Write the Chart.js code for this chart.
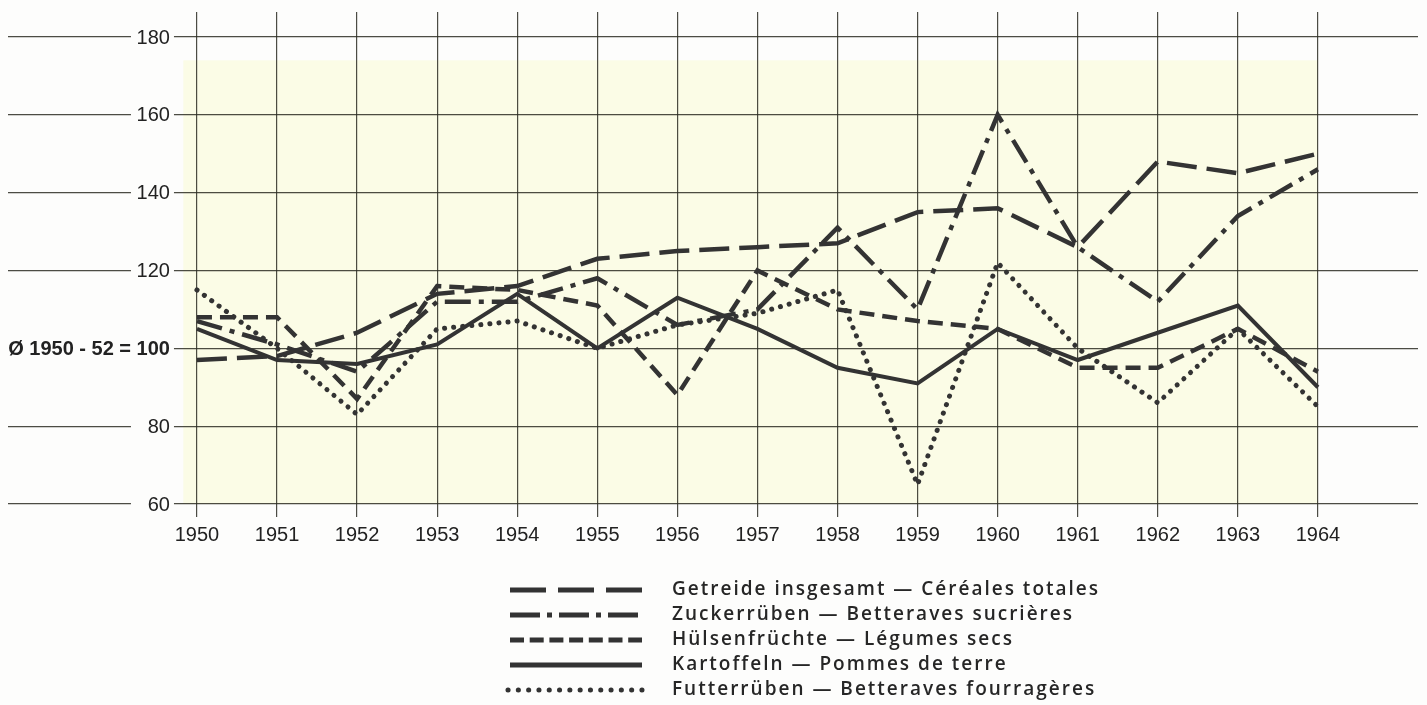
<!DOCTYPE html>
<html>
<head>
<meta charset="utf-8">
<script src="https://cdn.jsdelivr.net/npm/chart.js@4.4.1/dist/chart.umd.min.js"></script>
<style>
    html, body { margin: 0; padding: 0; background: #fdfdfc; }
    .chartBox { width: 1427px; height: 705px; }
</style>
</head>
<body>
<div class="chartBox"><canvas id="chart"></canvas></div>
<script>

const years = [1950, 1951, 1952, 1953, 1954, 1955, 1956, 1957, 1958, 1959, 1960, 1961, 1962, 1963, 1964];
const yTicks = [60, 80, 100, 120, 140, 160, 180];

const getreide      = [97, 98, 104, 114, 116, 123, 125, 126, 127, 135, 136, 126, 148, 145, 150];
const zuckerrueben  = [107, 101, 94, 112, 112, 118, 106, 110, 131, 110, 160, 126, 112, 134, 146];
const huelsen       = [108, 108, 87, 116, 115, 111, 88, 120, 110, 107, 105, 95, 95, 105, 94];
const kartoffeln    = [105, 97, 96, 101, 114, 100, 113, 105, 95, 91, 105, 97, 104, 111, 90];
const futterrueben  = [115, 100, 83, 105, 107, 100, 106, 109, 115, 65, 122, 100, 86, 105, 85];

const seriesLabels = [
    "Getreide insgesamt — Céréales totales",
    "Zuckerrüben — Betteraves sucrières",
    "Hülsenfrüchte — Légumes secs",
    "Kartoffeln — Pommes de terre",
    "Futterrüben — Betteraves fourragères"
];
const baseLabel = "Ø 1950 - 52 = 100";

const lineColor = "#333333";
const gridColor = "rgba(45, 45, 35, 0.85)";
const paperColor = "#fdfdfc";
const fieldColor = "#fbfce6";

// paper + the pale yellow plate behind the grid
const paperPlugin = {
    id: "paper",
    beforeDraw(chart) {
        const ctx = chart.ctx;
        const x = chart.scales.x;
        const y = chart.scales.y;
        ctx.save();
        ctx.fillStyle = paperColor;
        ctx.fillRect(0, 0, chart.width, chart.height);
        const left = x.getPixelForValue(1949.83);
        const right = x.getPixelForValue(1964);
        const top = y.getPixelForValue(174);
        const bottom = y.getPixelForValue(60);
        ctx.fillStyle = fieldColor;
        ctx.fillRect(left, top, right - left, bottom - top);
        ctx.restore();
    }
};

// y labels sit on the grid lines, left of the first year
const yLabelPlugin = {
    id: "yLabels",
    afterDatasetsDraw(chart) {
        const ctx = chart.ctx;
        const x = chart.scales.x;
        const y = chart.scales.y;
        const labelRight = x.getPixelForValue(1950) - 27;
        ctx.save();
        ctx.textAlign = "right";
        ctx.textBaseline = "middle";
        yTicks.forEach((v) => {
            const py = y.getPixelForValue(v);
            let clearLeft = labelRight - 39;
            let text = String(v);
            ctx.font = "20px 'Liberation Sans'";
            if (v === 100) {
                text = baseLabel;
                ctx.font = "bold 20px 'Liberation Sans'";
                clearLeft = 0;
            }
            ctx.fillStyle = paperColor;
            ctx.fillRect(clearLeft, py - 3, labelRight + 4 - clearLeft, 6);
            ctx.fillStyle = "#222";
            ctx.fillText(text, labelRight, py + 1);
        });
        ctx.restore();
    }
};

// legend below the chart with the line samples
const legendPlugin = {
    id: "dashLegend",
    afterDraw(chart) {
        const ctx = chart.ctx;
        ctx.save();
        ctx.font = "600 19px 'Open Sans'";
        // spread letters so the longest row keeps the printed width
        const plain = ctx.measureText(seriesLabels[0]).width;
        const spacing = Math.max(0, (426 - plain) / (seriesLabels[0].length - 1));
        chart.data.datasets.forEach((ds, i) => {
            const rowY = 590 + i * 25;
            ctx.strokeStyle = ds.borderColor;
            ctx.lineWidth = 5;
            ctx.lineCap = ds.borderCapStyle;
            ctx.setLineDash(ds.legendDash);
            ctx.beginPath();
            ctx.moveTo(ds.legendStart, rowY);
            ctx.lineTo(642, rowY);
            ctx.stroke();
            ctx.setLineDash([]);
            ctx.fillStyle = "#262626";
            ctx.letterSpacing = spacing.toFixed(2) + "px";
            ctx.textAlign = "left";
            ctx.textBaseline = "middle";
            ctx.fillText(ds.label, 672, rowY);
        });
        ctx.restore();
    }
};

const chart = new Chart(document.getElementById("chart"), {
    type: "line",
    data: {
        labels: years,
        datasets: [{
            label: seriesLabels[0],
            data: getreide,
            borderColor: lineColor,
            borderWidth: 4.5,
            borderDash: [30, 10],
            borderCapStyle: "butt",
            legendDash: [36, 12],
            legendStart: 510
        }, {
            label: seriesLabels[1],
            data: zuckerrueben,
            borderColor: lineColor,
            borderWidth: 4.5,
            borderDash: [26, 8, 5, 8],
            borderCapStyle: "butt",
            legendDash: [30, 7, 5, 7],
            legendStart: 510
        }, {
            label: seriesLabels[2],
            data: huelsen,
            borderColor: lineColor,
            borderWidth: 4.5,
            borderDash: [15, 8],
            borderCapStyle: "butt",
            legendDash: [14, 5.7],
            legendStart: 510
        }, {
            label: seriesLabels[3],
            data: kartoffeln,
            borderColor: lineColor,
            borderWidth: 4,
            borderDash: [],
            borderCapStyle: "butt",
            legendDash: [],
            legendStart: 510
        }, {
            label: seriesLabels[4],
            data: futterrueben,
            borderColor: lineColor,
            borderWidth: 5,
            borderDash: [0.1, 9],
            borderCapStyle: "round",
            legendDash: [0.1, 10.2],
            legendStart: 508
        }]
    },
    options: {
        responsive: true,
        maintainAspectRatio: false,
        animation: false,
        layout: {
            padding: { top: 12, left: 8, right: 9, bottom: 0 }
        },
        plugins: {
            legend: { display: false },
            tooltip: { enabled: false }
        },
        elements: {
            point: { radius: 0 },
            line: { tension: 0, borderJoinStyle: "miter" }
        },
        scales: {
            x: {
                type: "linear",
                min: 1947.64,
                max: 1965.25,
                afterBuildTicks: (scale) => {
                    scale.ticks = years.map((v) => ({ value: v }));
                },
                afterFit: (scale) => {
                    scale.height = 188;
                },
                grid: { color: gridColor, lineWidth: 1.2, drawTicks: false },
                border: { display: false },
                ticks: {
                    color: "#222",
                    padding: 6,
                    maxRotation: 0,
                    autoSkip: false,
                    font: { family: "'Liberation Sans'", size: 20 },
                    callback: (v) => String(v)
                }
            },
            y: {
                min: 56.66,
                max: 186.42,
                afterBuildTicks: (scale) => {
                    scale.ticks = yTicks.map((v) => ({ value: v }));
                },
                afterFit: (scale) => {
                    scale.width = 0;
                },
                grid: { color: gridColor, lineWidth: 1.2, drawTicks: false },
                border: { display: false },
                ticks: { display: false }
            }
        }
    },
    plugins: [paperPlugin, yLabelPlugin, legendPlugin]
});

</script>
</body>
</html>
